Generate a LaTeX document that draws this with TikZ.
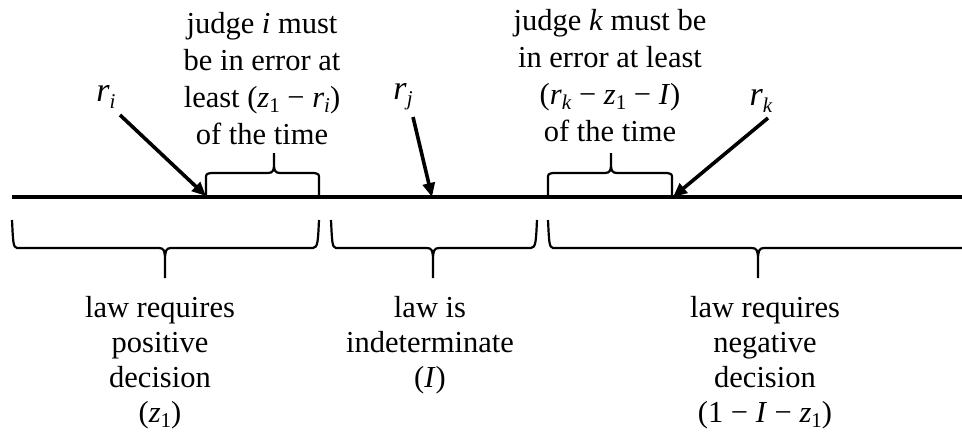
\documentclass[tikz,border=0pt]{standalone}
\usepackage{fontspec}
\setmainfont{Liberation Serif}
\usetikzlibrary{arrows.meta}
\newcommand\vsub[2]{\textit{#1}\raisebox{-0.4ex}{\fontsize{21}{21}\selectfont #2}}
\tikzset{
  txt/.style={align=center,inner sep=0pt,anchor=north,font=\fontsize{30.5}{37}\selectfont},
  btxt/.style={align=center,inner sep=0pt,anchor=north,font=\fontsize{30.5}{35}\selectfont},
  lbl/.style={inner sep=0pt,font=\fontsize{34}{34}\selectfont},
  axis/.style={line width=3.2pt},
  brc/.style={line width=2.2pt,line join=round},
  arr/.style={line width=3.6pt,-{Triangle[length=14pt,width=12pt]}}
}
\begin{document}
\begin{tikzpicture}[x=1pt,y=-1pt]
\useasboundingbox (0,0) rectangle (962,436);
% main line
\coordinate (L0) at (12,197);
\coordinate (L1) at (962,197);
\draw[axis] (L0) -- (L1);
% top braces
\draw[brc] (206,197) -- (206,179) .. controls (206,174) .. (211,173) -- (268,173)
  .. controls (273,173) and (274,170) .. (274,165) -- (274,153)
  (274,165) .. controls (274,170) and (275,173) .. (280,173) -- (314,173)
  .. controls (319,174) .. (319,179) -- (319,197);
\draw[brc] (548,197) -- (548,179) .. controls (548,174) .. (553,173) -- (605,173)
  .. controls (610,173) and (611,170) .. (611,165) -- (611,153)
  (611,165) .. controls (611,170) and (612,173) .. (617,173) -- (667,173)
  .. controls (672,174) .. (672,179) -- (672,197);
% bottom braces
\draw[brc] (12,220) .. controls (13,240) and (13,248) .. (17,248) -- (159,248)
  .. controls (164,248) and (165,251) .. (165,260) -- (165,278)
  (165,260) .. controls (165,251) and (166,248) .. (171,248) -- (313,248)
  .. controls (318,248) and (318,240) .. (319,220);
\draw[brc] (331,220) .. controls (332,240) and (332,248) .. (336,248) -- (427,248)
  .. controls (432,248) and (433,251) .. (433,260) -- (433,278)
  (433,260) .. controls (433,251) and (434,248) .. (439,248) -- (531,248)
  .. controls (536,248) and (536,240) .. (537,220);
\draw[brc] (548,220) .. controls (549,240) and (549,248) .. (553,248) -- (752,248)
  .. controls (757,248) and (758,251) .. (758,260) -- (758,278)
  (758,260) .. controls (758,251) and (759,248) .. (764,248) -- (962,248);
% top texts
\node[txt] (ti) at (262,12) {judge \textit{i} must\\be in error at\\least (\vsub{z}{1} − \vsub{r}{\textit{i}})\\of the time};
\node[txt] (tk) at (610,9) {judge \textit{k} must be\\in error at least\\(\vsub{r}{\textit{k}} − \vsub{z}{1} − \textit{I})\\of the time};
% r labels
\node[lbl] (ri) at (106,97) {\vsub{r}{\textit{i}}};
\node[lbl] (rj) at (403,97) {\vsub{r}{\textit{j}}};
\node[lbl] (rk) at (761,101) {\vsub{r}{\textit{k}}};
% arrows
\coordinate (ai) at (120,115);
\coordinate (bi) at (206,196);
\coordinate (aj) at (413,117);
\coordinate (bj) at (432,197);
\coordinate (ak) at (768,118);
\coordinate (bk) at (673,197);
\draw[arr] (ai) -- (bi);
\draw[arr] (aj) -- (bj);
\draw[arr] (ak) -- (bk);
% bottom texts
\node[btxt] (bp) at (160,296) {law requires\\positive\\decision\\(\vsub{z}{1})};
\node[btxt] (bi2) at (430,296) {law is\\indeterminate\\(\textit{I})};
\node[btxt] (bn) at (765,296) {law requires\\negative\\decision\\(1 − \textit{I} − \vsub{z}{1})};
\end{tikzpicture}
\end{document}
